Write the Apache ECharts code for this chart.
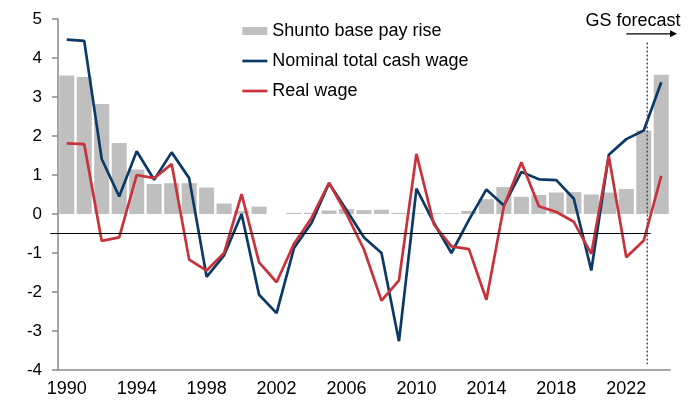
<!DOCTYPE html>
<html>
<head>
<meta charset="utf-8">
<script src="https://cdn.jsdelivr.net/npm/echarts@6/dist/echarts.min.js"></script>
<style>
  html, body { margin: 0; padding: 0; background: #fff; }
  #main { width: 695px; height: 401px; }
</style>
</head>
<body>
<div id="main"></div>
<script>
// years on the x axis
var years = ["1990", "1991", "1992", "1993", "1994", "1995", "1996", "1997", "1998", "1999",
  "2000", "2001", "2002", "2003", "2004", "2005", "2006", "2007", "2008", "2009",
  "2010", "2011", "2012", "2013", "2014", "2015", "2016", "2017", "2018", "2019",
  "2020", "2021", "2022", "2023", "2024"];
// % yoy
var shunto = [3.55, 3.51, 2.82, 1.82, 1.14, 0.77, 0.79, 0.79, 0.68, 0.27,
  0.08, 0.19, 0, 0.03, 0.03, 0.09, 0.13, 0.10, 0.11, 0.03,
  0.02, 0.02, 0.02, 0.08, 0.38, 0.69, 0.44, 0.49, 0.55, 0.56,
  0.50, 0.55, 0.64, 2.14, 3.57];
var nominal = [4.47, 4.44, 1.41, 0.45, 1.61, 0.88, 1.58, 0.92, -1.61, -1.06,
  0.0, -2.07, -2.54, -0.87, -0.23, 0.79, 0.1, -0.6, -1.0, -3.26,
  0.65, -0.23, -1.0, -0.15, 0.63, 0.22, 1.08, 0.89, 0.87, 0.39,
  -1.45, 1.52, 1.92, 2.14, 3.38];
var real = [1.81, 1.79, -0.69, -0.6, 1.0, 0.92, 1.28, -1.17, -1.45, -1.0,
  0.51, -1.24, -1.75, -0.76, -0.1, 0.8, 0.0, -0.91, -2.22, -1.7,
  1.54, -0.27, -0.83, -0.9, -2.2, 0.2, 1.33, 0.2, 0.05, -0.2,
  -1.02, 1.48, -1.11, -0.68, 0.98];
var yTicks = { min: -4, max: 5, step: 1 };

// annotation positions (year units on a hidden value axis)
var refLevel = -0.5;
var refFrom = 1989.06, refTo = 2023.4;
var forecastAt = 2023.2, forecastTop = 4.4, forecastBottom = -3.85;
var arrowFrom = 2022.0, arrowTo = 2024.9, arrowLevel = 4.62;
var labelRight = 2025.1, labelLevel = 4.96;

var font = "Liberation Sans, Arial, sans-serif";
var axisGrey = "#898989";
var navy = "#0b3a66", red = "#c8323b";

var myChart = echarts.init(document.getElementById("main"));
option = {
  animation: false,
  backgroundColor: "#fff",
  grid: { left: 58, right: 25, top: 19, bottom: 31, outerBoundsMode: "none" },
  legend: {
    orient: "vertical",
    left: 241,
    top: 22,
    padding: 0,
    itemWidth: 25,
    itemHeight: 8,
    itemGap: 12,
    textStyle: { fontSize: 18, color: "#000", fontFamily: font },
    data: [
      { name: "Shunto base pay rise", icon: "rect" },
      { name: "Nominal total cash wage", itemStyle: { opacity: 0 }, lineStyle: { color: navy, width: 2.7 } },
      { name: "Real wage", itemStyle: { opacity: 0 }, lineStyle: { color: red, width: 2.7 } }
    ]
  },
  xAxis: [
    {
      type: "category",
      data: years,
      boundaryGap: true,
      axisLine: { onZero: false, lineStyle: { color: axisGrey, width: 1.5 } },
      axisTick: { interval: 3, length: 5, lineStyle: { color: axisGrey, width: 1.5 } },
      axisLabel: { interval: 3, margin: 10, fontSize: 18, color: "#000", fontFamily: font },
      splitLine: { show: false }
    },
    {
      // helper axis for annotations
      type: "value",
      min: years[0] - 0.5,
      max: +years[years.length - 1] + 0.5,
      show: false
    }
  ],
  yAxis: {
    type: "value",
    min: yTicks.min,
    max: yTicks.max,
    interval: yTicks.step,
    axisLine: { show: true, lineStyle: { color: axisGrey, width: 1.5 } },
    axisTick: { show: true, length: 6, lineStyle: { color: axisGrey, width: 1.5 } },
    axisLabel: { margin: 16, fontSize: 17, color: "#000", fontFamily: font },
    splitLine: { show: false }
  },
  series: [
    {
      name: "Shunto base pay rise",
      type: "bar",
      data: shunto,
      barCategoryGap: "14%",
      itemStyle: { color: "#bfbfbf" }
    },
    {
      name: "Nominal total cash wage",
      type: "line",
      data: nominal,
      symbol: "none",
      lineStyle: { color: navy, width: 2.7 },
      itemStyle: { color: navy }
    },
    {
      name: "Real wage",
      type: "line",
      data: real,
      symbol: "none",
      lineStyle: { color: red, width: 2.7 },
      itemStyle: { color: red }
    }
  ]
};
myChart.setOption(option);

// annotations: reference line, forecast divider, arrow and label
function px(x, y) {
  return myChart.convertToPixel({ xAxisIndex: 1, yAxisIndex: 0 }, [x, y]);
}
var a = px(refFrom, refLevel), b = px(refTo, refLevel);
var c = px(forecastAt, forecastTop), d = px(forecastAt, forecastBottom);
var e = px(arrowFrom, arrowLevel), f = px(arrowTo, arrowLevel);
var g = px(labelRight, labelLevel);

myChart.setOption({
  graphic: [
    {
      type: "line",
      shape: { x1: a[0], y1: a[1], x2: b[0], y2: b[1] },
      style: { stroke: "#000", lineWidth: 1 },
      z: 10
    },
    {
      type: "line",
      shape: { x1: c[0], y1: c[1], x2: d[0], y2: d[1] },
      style: { stroke: "#555", lineWidth: 1.5, lineDash: [2, 2] },
      z: 10
    },
    {
      type: "line",
      shape: { x1: e[0], y1: e[1], x2: f[0] - 5, y2: f[1] },
      style: { stroke: "#000", lineWidth: 1.2 },
      z: 10
    },
    {
      type: "polygon",
      shape: { points: [[f[0], f[1]], [f[0] - 7, f[1] - 3.5], [f[0] - 7, f[1] + 3.5]] },
      style: { fill: "#000" },
      z: 10
    },
    {
      type: "text",
      x: g[0],
      y: g[1],
      style: {
        text: "GS forecast",
        fontSize: 18,
        fontFamily: font,
        fill: "#000",
        align: "right",
        verticalAlign: "middle"
      },
      z: 10
    }
  ]
});
</script>
</body>
</html>
